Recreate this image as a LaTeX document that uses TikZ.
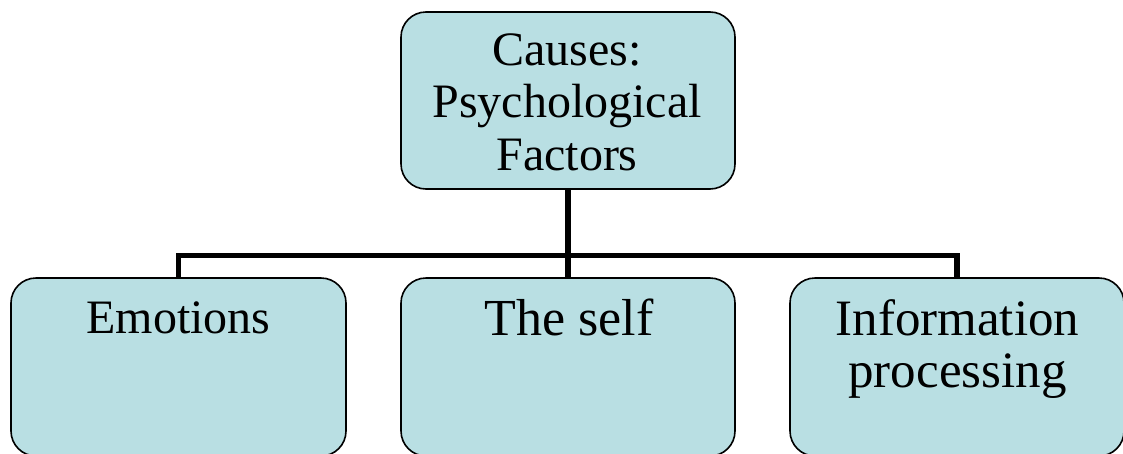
\documentclass[tikz,border=0pt]{standalone}
\usepackage{fontspec}
\setmainfont{Liberation Serif}
\definecolor{boxfill}{RGB}{185,223,227}
\begin{document}
\begin{tikzpicture}[x=1pt,y=-1pt,
  box/.style={draw=black, line width=1.6pt, fill=boxfill, rounded corners=25pt, inner sep=0pt},
  link/.style={draw=black, line width=5.5pt},
  lbl/.style={align=center, inner sep=0pt, anchor=base}]
\useasboundingbox (0,0) rectangle (1123,453);

% boxes
\node[box, minimum width=334pt, minimum height=177pt] (top) at (568,100.5) {};
\node[box, minimum width=335pt, minimum height=178pt] (emo) at (178.5,367) {};
\node[box, minimum width=334pt, minimum height=178pt] (self) at (568,367) {};
\node[box, minimum width=334pt, minimum height=178pt] (info) at (957,367) {};

% tree connectors
\draw[link] (top.south) -- ++(0,65.5) coordinate (bus);
\draw[link] (emo.north) |- (bus) -| (info.north);
\draw[link] (self.north) -- (self.north |- bus);

% labels (anchored at the baseline of their last line)
\node[lbl, font=\fontsize{48}{52.5}\selectfont] (topText) at (567,170) {Causes:\\Psychological\\Factors};
\node[lbl, font=\fontsize{48}{52}\selectfont] (emoText) at (178.5,333) {Emotions};
\node[lbl, font=\fontsize{52}{56}\selectfont] (selfText) at (569,335) {The self};
\node[lbl, font=\fontsize{51}{52}\selectfont] (infoText) at (957.5,387) {Information\\processing};
\end{tikzpicture}
\end{document}
